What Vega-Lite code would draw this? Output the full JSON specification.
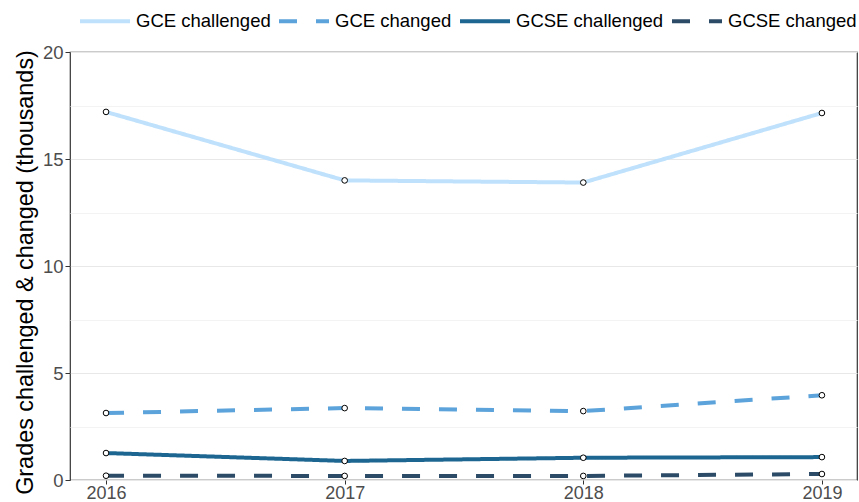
{
  "$schema": "https://vega.github.io/schema/vega-lite/v6.json",
  "width": 787,
  "height": 428,
  "autosize": "none",
  "padding": {"left": 70, "top": 52, "right": 2, "bottom": 22},
  "config": {
    "font": "Liberation Sans",
    "view": {"stroke": "#333333", "strokeWidth": 1.2}
  },
  "data": {
    "values": [
      {"year": 2016, "series": "GCE challenged", "value": 17.2},
      {"year": 2017, "series": "GCE challenged", "value": 14.0},
      {"year": 2018, "series": "GCE challenged", "value": 13.9},
      {"year": 2019, "series": "GCE challenged", "value": 17.15},
      {"year": 2016, "series": "GCE changed", "value": 3.13},
      {"year": 2017, "series": "GCE changed", "value": 3.36},
      {"year": 2018, "series": "GCE changed", "value": 3.22},
      {"year": 2019, "series": "GCE changed", "value": 3.96},
      {"year": 2016, "series": "GCSE challenged", "value": 1.26},
      {"year": 2017, "series": "GCSE challenged", "value": 0.89},
      {"year": 2018, "series": "GCSE challenged", "value": 1.04},
      {"year": 2019, "series": "GCSE challenged", "value": 1.07},
      {"year": 2016, "series": "GCSE changed", "value": 0.2},
      {"year": 2017, "series": "GCSE changed", "value": 0.19},
      {"year": 2018, "series": "GCSE changed", "value": 0.19},
      {"year": 2019, "series": "GCSE changed", "value": 0.28}
    ]
  },
  "encoding": {
    "x": {
      "field": "year",
      "type": "quantitative",
      "scale": {"domain": [2015.849, 2019.147], "nice": false, "zero": false},
      "axis": {
        "values": [2016, 2017, 2018, 2019],
        "format": "d",
        "title": null,
        "grid": false,
        "domain": false,
        "tickColor": "#333333",
        "tickSize": 4,
        "labelColor": "#4d4d4d",
        "labelFontSize": 18,
        "labelPadding": 0,
        "labelFlush": false
      }
    },
    "y": {
      "field": "value",
      "type": "quantitative",
      "scale": {"domain": [0, 20], "nice": false},
      "axis": {
        "values": [0, 2.5, 5, 7.5, 10, 12.5, 15, 17.5, 20],
        "labelExpr": "datum.value % 5 === 0 ? datum.label : ''",
        "tickOpacity": {"condition": {"test": "datum.value % 5 === 0", "value": 1}, "value": 0},
        "gridColor": {"condition": {"test": "datum.value % 5 === 0", "value": "#e8e8e8"}, "value": "#f3f3f3"},
        "domain": false,
        "tickColor": "#333333",
        "tickSize": 5,
        "labelColor": "#4d4d4d",
        "labelFontSize": 18.5,
        "labelPadding": 2,
        "labelFlush": false,
        "title": "Grades challenged & changed (thousands)",
        "titleFontSize": 23.4,
        "titleFontWeight": "normal",
        "titleColor": "#000000",
        "titlePadding": 5,
        "titleY": 220
      }
    }
  },
  "layer": [
    {
      "mark": {"type": "line", "strokeWidth": 4, "strokeCap": "butt"},
      "encoding": {
        "color": {
          "field": "series",
          "type": "nominal",
          "scale": {
            "domain": ["GCE challenged", "GCE changed", "GCSE challenged", "GCSE changed"],
            "range": ["#bfe1fc", "#5ba3da", "#1d6691", "#2c4b67"]
          },
          "legend": {
            "title": null,
            "orient": "none",
            "direction": "horizontal",
            "legendX": 8,
            "legendY": -58,
            "symbolType": "stroke",
            "symbolSize": 2500,
            "symbolStrokeWidth": 4,
            "labelFontSize": 18.5,
            "labelColor": "#000000",
            "labelOffset": 4,
            "columnPadding": 0,
            "labelLimit": 300
          }
        },
        "strokeDash": {
          "field": "series",
          "type": "nominal",
          "scale": {
            "domain": ["GCE challenged", "GCE changed", "GCSE challenged", "GCSE changed"],
            "range": [[1, 0], [18, 19], [1, 0], [18, 19]]
          },
          "legend": {
            "title": null,
            "orient": "none",
            "direction": "horizontal",
            "legendX": 8,
            "legendY": -58,
            "symbolType": "stroke",
            "symbolSize": 2500,
            "symbolStrokeWidth": 4,
            "labelFontSize": 18.5,
            "labelColor": "#000000",
            "labelOffset": 4,
            "columnPadding": 0,
            "labelLimit": 300
          }
        }
      }
    },
    {
      "mark": {"type": "point", "filled": true, "fill": "white", "stroke": "black", "strokeWidth": 1, "size": 32, "opacity": 1}
    }
  ]
}
